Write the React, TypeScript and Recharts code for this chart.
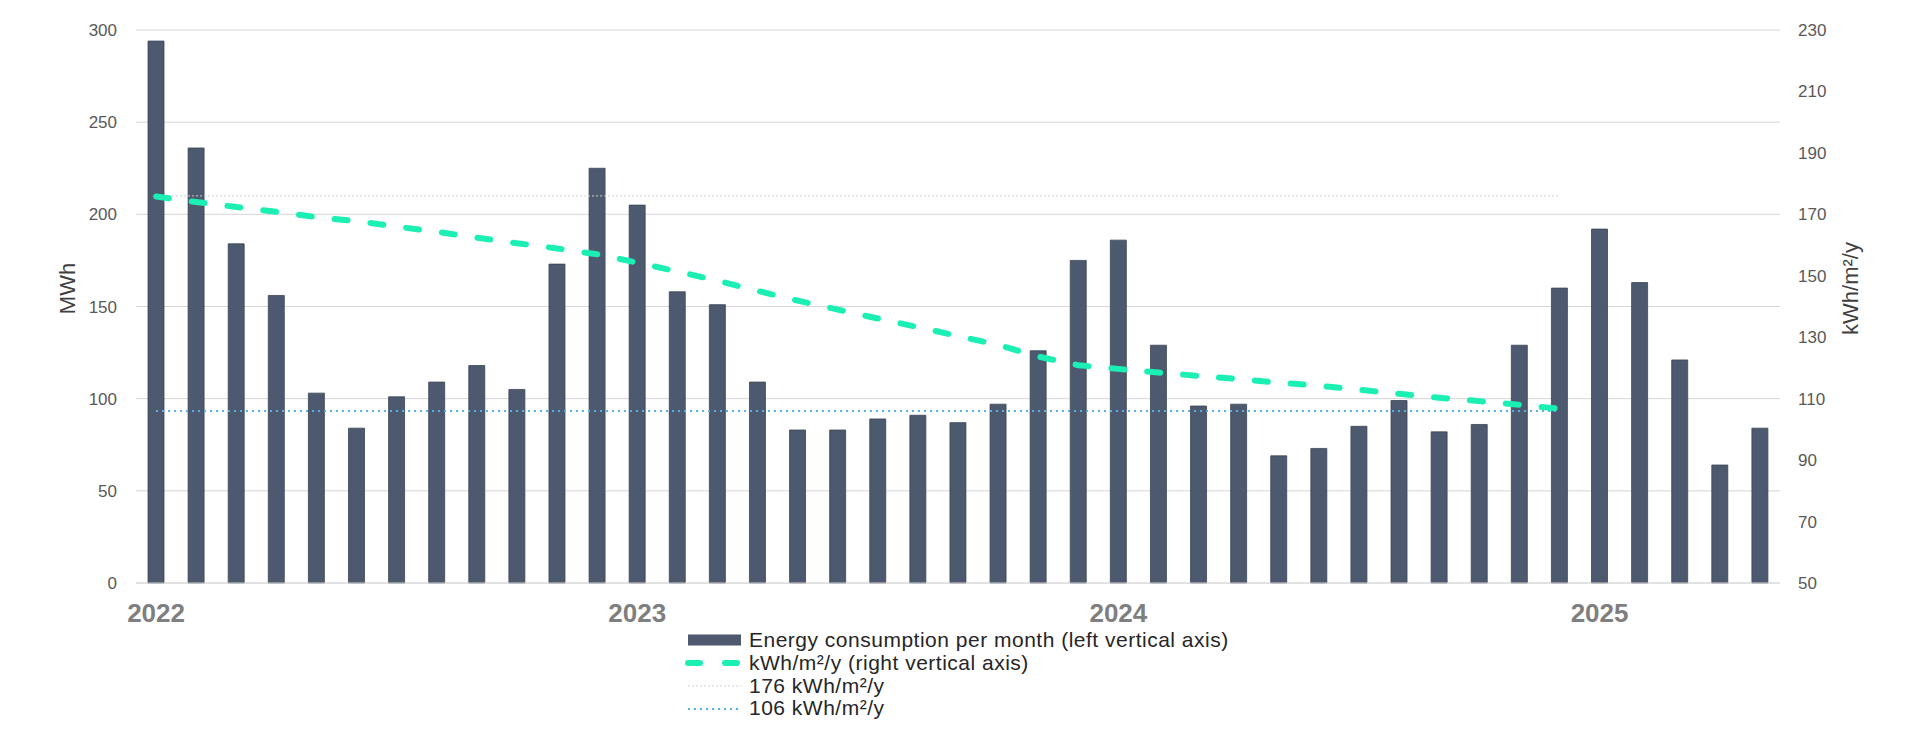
import { ComposedChart, Bar, Line, XAxis, YAxis, CartesianGrid, ReferenceLine } from 'recharts';

const months = [
  '2022-01', '2022-02', '2022-03', '2022-04', '2022-05', '2022-06', '2022-07', '2022-08', '2022-09', '2022-10', '2022-11', '2022-12',
  '2023-01', '2023-02', '2023-03', '2023-04', '2023-05', '2023-06', '2023-07', '2023-08', '2023-09', '2023-10', '2023-11', '2023-12',
  '2024-01', '2024-02', '2024-03', '2024-04', '2024-05', '2024-06', '2024-07', '2024-08', '2024-09', '2024-10', '2024-11', '2024-12',
  '2025-01', '2025-02', '2025-03', '2025-04', '2025-05',
];

// monthly energy use, MWh (left axis)
const energyMWh = [
  294, 236, 184, 156, 103, 84, 101, 109, 118, 105, 173, 225,
  205, 158, 151, 109, 83, 83, 89, 91, 87, 97, 126, 175,
  186, 129, 96, 97, 69, 73, 85, 99, 82, 86, 129, 160,
  192, 163, 121, 64, 84,
];

// rolling intensity, kWh/m²/y (right axis), available up to 2024-12
const intensityKwhM2 = [
  175.8, 174.0, 172.4, 170.8, 169.1, 167.8, 166.0, 164.3, 162.4, 160.6, 158.9, 157.0,
  154.3, 151.4, 148.4, 145.1, 141.9, 139.0, 136.1, 133.3, 130.4, 127.5, 123.7, 120.9,
  119.7, 118.5, 117.4, 116.4, 115.2, 114.2, 112.9, 111.6, 110.3, 109.2, 108.0, 106.7,
];

const upperTarget = 176;
const lowerTarget = 106;

const leftTicks = [0, 50, 100, 150, 200, 250, 300];
const rightTicks = [50, 70, 90, 110, 130, 150, 170, 190, 210, 230];

const BAR_COLOR = '#4d596e';
const GREEN = '#1befb3';
const BLUE = '#55b0e6';
const LIGHT = '#cfcfcf';

const rows = months.map((month, i) => ({
  month,
  energy: energyMWh[i],
  intensity: i < intensityKwhM2.length ? intensityKwhM2[i] : null,
}));

const lastLineMonth = months[intensityKwhM2.length - 1];

function AxisTitle({ viewBox, value, dx }: any) {
  const cx = viewBox.x + dx;
  const cy = viewBox.y + viewBox.height / 2 - 18;
  return (
    <text
      x={cx}
      y={cy}
      transform={`rotate(-90 ${cx} ${cy})`}
      textAnchor="middle"
      dominantBaseline="central"
      fill="#404040"
      fontSize={22}
    >
      {value}
    </text>
  );
}

function LegendRow({ icon, text }: { icon: React.ReactNode; text: string }) {
  return (
    <div style={{ display: 'flex', alignItems: 'center', height: 22.8 }}>
      <svg width={60} height={14} style={{ marginRight: 5, flexShrink: 0 }}>
        {icon}
      </svg>
      <span style={{ whiteSpace: 'nowrap' }}>{text}</span>
    </div>
  );
}

function ChartLegend() {
  return (
    <div
      style={{
        position: 'absolute',
        left: 684,
        top: 629,
        fontSize: 21,
        lineHeight: '22.8px',
        letterSpacing: 0.5,
        color: '#262626',
      }}
    >
      <LegendRow
        icon={<rect x={4} y={1.5} width={53} height={11} fill={BAR_COLOR} />}
        text="Energy consumption per month (left vertical axis)"
      />
      <LegendRow
        icon={
          <line x1={4} y1={7} x2={53} y2={7} stroke={GREEN} strokeWidth={6} strokeDasharray="12 25" strokeLinecap="round" />
        }
        text="kWh/m²/y (right vertical axis)"
      />
      <LegendRow
        icon={<line x1={4} y1={7} x2={57} y2={7} stroke={LIGHT} strokeWidth={1} strokeDasharray="2 2" />}
        text={`${upperTarget} kWh/m²/y`}
      />
      <LegendRow
        icon={<line x1={4} y1={7} x2={57} y2={7} stroke={BLUE} strokeWidth={2} strokeDasharray="2 4" />}
        text={`${lowerTarget} kWh/m²/y`}
      />
    </div>
  );
}

export default function App() {
  return (
    <div
      style={{
        position: 'absolute',
        left: 0,
        top: 0,
        width: 1920,
        height: 750,
        background: '#fff',
        fontFamily: "'Liberation Sans', Arial, sans-serif",
      }}
    >
      <ComposedChart width={1920} height={750} data={rows} margin={{ top: 30, right: 0, bottom: 117, left: 0 }}>
        <CartesianGrid yAxisId="left" vertical={false} stroke="#d6d6d6" />
        <XAxis
          dataKey="month"
          interval={0}
          height={50}
          tickLine={false}
          axisLine={{ stroke: '#d9d9d9' }}
          tickMargin={15}
          tick={{ fill: '#7f7f7f', fontSize: 26, fontWeight: 700 }}
          tickFormatter={(m: string) => (m.endsWith('-01') ? m.slice(0, 4) : '')}
        />
        <YAxis
          yAxisId="left"
          width={136}
          domain={[0, 300]}
          ticks={leftTicks}
          tickLine={false}
          axisLine={false}
          tickMargin={13}
          tick={{ fill: '#595959', fontSize: 17 }}
          label={<AxisTitle value="MWh" dx={67} />}
        />
        <YAxis
          yAxisId="right"
          orientation="right"
          width={140}
          domain={[50, 230]}
          ticks={rightTicks}
          tickLine={false}
          axisLine={false}
          tickMargin={12}
          tick={{ fill: '#595959', fontSize: 17 }}
          label={<AxisTitle value="kWh/m²/y" dx={70} />}
        />
        <Bar
          yAxisId="left"
          dataKey="energy"
          barSize={16}
          fill={BAR_COLOR}
          stroke="#3c4556"
          strokeWidth={0.8}
          isAnimationActive={false}
        />
        <ReferenceLine
          yAxisId="right"
          segment={[{ x: months[0], y: upperTarget }, { x: lastLineMonth, y: upperTarget }]}
          stroke={LIGHT}
          strokeWidth={1}
          strokeDasharray="2 2"
        />
        <ReferenceLine
          yAxisId="right"
          segment={[{ x: months[0], y: lowerTarget }, { x: lastLineMonth, y: lowerTarget }]}
          stroke={BLUE}
          strokeWidth={2}
          strokeDasharray="2 4"
        />
        <Line
          yAxisId="right"
          type="linear"
          dataKey="intensity"
          stroke={GREEN}
          strokeWidth={6}
          strokeDasharray="13 23"
          strokeLinecap="round"
          dot={false}
          activeDot={false}
          isAnimationActive={false}
        />
      </ComposedChart>
      <ChartLegend />
    </div>
  );
}
